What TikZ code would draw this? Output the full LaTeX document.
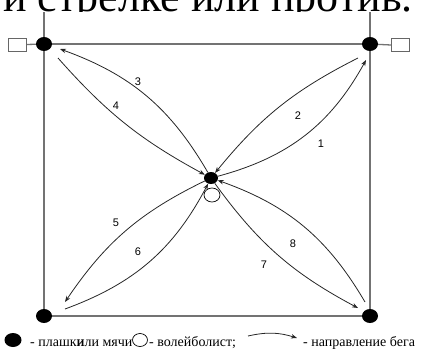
\documentclass[tikz,border=0pt]{standalone}
\usepackage{fontspec}
\setmainfont{Liberation Serif}
\newfontfamily\numfont{Liberation Sans}
\usetikzlibrary{shapes.geometric,arrows.meta,backgrounds}
\begin{document}
\begin{tikzpicture}[x=1pt,y=-1pt,
  dot/.style={ellipse,fill=black,inner sep=0pt,minimum width=16pt,minimum height=14pt},
  player/.style={ellipse,draw=black,line width=0.7pt,fill=white,inner sep=0pt,minimum width=16pt,minimum height=14pt},
  pad/.style={draw=black!60,line width=0.7pt,fill=white,minimum width=18pt,minimum height=13pt,inner sep=0pt},
  court/.style={draw=black!55,line width=1.3pt},
  run/.style={draw=black!85,line width=0.8pt},
  tip/.style={-{Stealth[length=6pt,width=4.5pt]}},
  num/.style={font=\numfont\fontsize{11}{12}\selectfont,inner sep=0pt},
  legend/.style={font=\fontsize{14}{16}\selectfont,inner sep=0pt}]
\useasboundingbox (0,0) rectangle (425,349);
\clip (0,0) rectangle (425,349);
% heading, cut by the top edge and hidden below its base line
\begin{scope}
  \clip (0,0) rectangle (425,11.5);
  \node[anchor=base east,font=\fontsize{44}{50}\selectfont,inner sep=0pt] (head) at (413,11) {и стрелке или против.};
\end{scope}
% corners
\node[dot] (tl) at (44,44) {};
\node[dot] (tr) at (370,44) {};
\node[dot] (bl) at (44,316) {};
\node[dot] (br) at (370,316) {};
\coordinate (tlup) at (44,12);
\coordinate (trup) at (370,12);
\node[pad] (padl) at (17,44.5) {};
\node[pad] (padr) at (400.5,45) {};
\begin{scope}[on background layer]
  \draw[court] (tlup) -- (tl.center) -- (bl.center) -- (br.center) -- (tr.center) -- (trup);
  \draw[court] (tl.center) -- (tr.center);
  \draw[court] (padl.east) -- (tl.center);
  \draw[court] (tr.center) -- (padr.west);
\end{scope}
% centre
\node[dot,minimum width=14pt,minimum height=12pt] (cen) at (211,178) {};
\node[player] (pl) at (212,195) {};
% free ends near the corners
\coordinate (e3) at (60,49);
\coordinate (s4) at (58,58);
\coordinate (s2) at (358,58);
\coordinate (e1) at (366,60);
\coordinate (e5) at (65,302);
\coordinate (s6) at (65,309);
\coordinate (s8) at (365,302);
\coordinate (e7) at (358,308);
\draw[run,tip] (cen) to[bend right=20] (e3);
\draw[run,tip] (s4) to[bend right=10] (cen);
\draw[run,tip] (s2) to[bend right=12] (cen);
\draw[run,tip] (cen) to[bend right=23] (e1);
\draw[run,tip] (cen) to[bend right=15] (e5);
\draw[run,tip] (s6) to[bend right=21] (cen);
\draw[run,tip] (s8) to[bend right=20] (cen);
\draw[run,tip] (cen) to[bend right=13] (e7);
% numbers
\node[num] (n1) at (321,144) {1};
\node[num] (n2) at (298,116) {2};
\node[num] (n3) at (138,82) {3};
\node[num] (n4) at (116,106) {4};
\node[num] (n5) at (116,223) {5};
\node[num] (n6) at (138,252) {6};
\node[num] (n7) at (264,265) {7};
\node[num] (n8) at (293,244) {8};
% legend
\node[dot,minimum width=17pt,minimum height=14pt] (ldot) at (13,340) {};
\node[legend,anchor=base west] (lt1) at (30,346) {- плашки\kern-0.5em или мячи};
\node[player,minimum width=15pt,minimum height=13pt] (lpl) at (140,340) {};
\node[legend,anchor=base west] (lt2) at (149,346) {- волейболист;};
\coordinate (la) at (248,336);
\coordinate (lb) at (297,338);
\draw[run,tip] (la) to[bend left=15] (lb);
\node[legend,anchor=base west] (lt3) at (303,346) {- направление бега};
\end{tikzpicture}
\end{document}
